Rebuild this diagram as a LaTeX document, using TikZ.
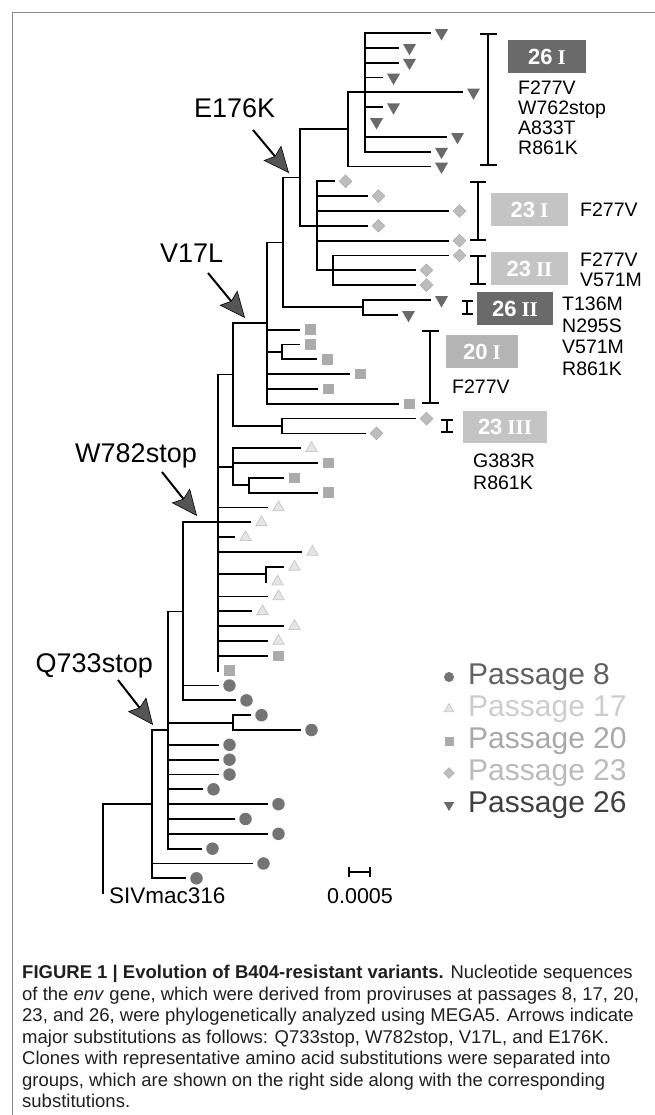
\documentclass[tikz,border=0pt]{standalone}
\usepackage{fontspec}
\setmainfont{Liberation Sans}
\newfontfamily\rmbf{Liberation Serif}
\usetikzlibrary{arrows.meta,shapes.geometric}
\definecolor{g26}{HTML}{6A6A6A}
\definecolor{g23}{HTML}{BDBDBD}
\definecolor{g20}{HTML}{ABABAB}
\definecolor{g17}{HTML}{C8C8C8}
\definecolor{g8}{HTML}{747474}
\definecolor{box26}{HTML}{6A6A6A}
\definecolor{box23}{HTML}{C4C4C4}
\definecolor{box20}{HTML}{B4B4B4}
\definecolor{framec}{HTML}{8A8A8A}
\definecolor{headc}{HTML}{555555}
\newcommand\lf[4]{%
  \coordinate (p#2) at (#1,{ly(#2)});
  \coordinate (q#2) at (#3,{ly(#2)});
  \draw[br] (p#2) -- (q#2);
  \node[#4] (m#2) at ([xshift=11.5pt]q#2) {};}
\newcommand\tvbar[4]{%
  \coordinate (#1t) at (#2,{ly(#3)});
  \coordinate (#1b) at (#2,{ly(#4)});
  \draw[br] (#1t) -- (#1b);}
\newcommand\thcon[4]{%
  \coordinate (#1a) at (#2,{ly(#4)});
  \coordinate (#1z) at (#3,{ly(#4)});
  \draw[br] (#1a) -- (#1z);}
\newcommand\grp[4]{%
  \coordinate (#1u) at (#2,{ly(#3)});
  \coordinate (#1d) at (#2,{ly(#4)});}
\newcommand\bxt[2]{{\fontsize{22}{22}\selectfont\bfseries #1}\hspace{5pt}{\rmbf\fontsize{21}{21}\selectfont\bfseries #2}}
\begin{document}
\begin{tikzpicture}[x=1pt,y=-1pt,
  declare function={ly(\i)=33+14.83*\i;},
  br/.style={line width=1.8pt,line cap=rect,black},
  t26/.style={regular polygon,regular polygon sides=3,shape border rotate=180,fill=g26,inner sep=0pt,minimum size=15pt},
  t17/.style={regular polygon,regular polygon sides=3,draw=g17,fill=g17!45,line width=0.8pt,inner sep=0pt,minimum size=13pt},
  d23/.style={diamond,fill=g23,draw=g23!85!black,line width=0.4pt,inner sep=0pt,minimum width=13pt,minimum height=13pt},
  s20/.style={rectangle,fill=g20,inner sep=0pt,minimum size=10.5pt},
  c8/.style={circle,fill=g8,inner sep=0pt,minimum size=12.5pt},
  gbox/.style={rectangle,inner sep=0pt,text=white,draw=none},
  lab/.style={font=\fontsize{19.5}{20}\selectfont,anchor=base west,inner sep=0pt},
  albl/.style={font=\fontsize{27}{30}\selectfont,inner sep=0pt},
  leg/.style={font=\fontsize{30}{30}\selectfont,anchor=base west,inner sep=0pt},
  capf/.style={font=\fontsize{18.5}{20}\selectfont,anchor=base west,inner sep=0pt,text=black!88},
  bigarr/.style={line width=2pt,-{Stealth[length=26pt,width=23pt,inset=4pt,fill=headc,line width=0.6pt]}},
  brk/.style={line width=2pt},
  framel/.style={line width=1pt,framec}]
\useasboundingbox (0,0) rectangle (655,1115);
% frame
\coordinate (fr1) at (12,1115);
\coordinate (fr2) at (12,13);
\coordinate (fr3) at (655,13);
\draw[framel] (fr1) -- (fr2) -- (fr3);
% ---- tree: internal verticals and connections
\tvbar{nA}{365}{0}{8}
\tvbar{nB}{348}{4}{9}
\thcon{cB}{300}{348}{6.5}
\tvbar{nC}{300}{6.5}{13}
\tvbar{nD}{317}{10}{16}
\tvbar{nE}{333}{15}{17}
\thcon{cC}{283}{300}{9.75}
\tvbar{nF}{283}{9.75}{18.5}
\thcon{cG}{283}{363}{18.5}
\tvbar{nG}{363}{18}{19}
\thcon{cF}{267}{283}{14.125}
\tvbar{nH}{267}{14.125}{25}
\thcon{cI}{267}{282}{21.5}
\tvbar{nI}{282}{21}{22}
\thcon{cH}{233}{267}{19.5625}
\tvbar{nJ}{233}{19.5625}{26.5}
\thcon{cK}{233}{282}{26.5}
\tvbar{nK}{282}{26}{27}
\thcon{cJ}{218}{233}{23.03}
\tvbar{nL}{218}{23.03}{43}
\thcon{cM}{218}{233}{29.25}
\tvbar{nM}{233}{28}{30.5}
\thcon{cN}{233}{249}{30.5}
\tvbar{nN}{249}{30}{31}
\thcon{cO}{218}{266}{36.5}
\tvbar{nO}{266}{36}{37}
\tvbar{nP}{183}{33.02}{45}
\thcon{cP}{168}{183}{39.01}
\tvbar{nQ}{168}{39.01}{55}
\thcon{cR}{168}{233}{46.5}
\tvbar{nR}{233}{46}{47}
\thcon{cQ}{152}{168}{47}
\tvbar{nS}{152}{47}{57}
\thcon{cS}{103}{152}{52}
\tvbar{nT}{103}{52}{58}
% ---- leaves
\lf{365}{0}{430}{t26}
\lf{365}{1}{398}{t26}
\lf{365}{2}{398}{t26}
\lf{365}{3}{382}{t26}
\lf{348}{4}{462}{t26}
\lf{365}{5}{382}{t26}
\lf{365}{6}{365}{t26}
\lf{365}{7}{446}{t26}
\lf{365}{8}{430}{t26}
\lf{348}{9}{430}{t26}
\lf{317}{10}{334}{d23}
\lf{317}{11}{367}{d23}
\lf{317}{12}{448}{d23}
\lf{300}{13}{367}{d23}
\lf{317}{14}{448}{d23}
\lf{333}{15}{448}{d23}
\lf{317}{16}{415}{d23}
\lf{333}{17}{415}{d23}
\lf{363}{18}{430}{t26}
\lf{363}{19}{397}{t26}
\lf{267}{20}{299}{s20}
\lf{282}{21}{299}{s20}
\lf{282}{22}{316}{s20}
\lf{267}{23}{349}{s20}
\lf{267}{24}{317}{s20}
\lf{267}{25}{398}{s20}
\lf{282}{26}{415}{d23}
\lf{282}{27}{365}{d23}
\lf{233}{28}{300}{t17}
\lf{233}{29}{317}{s20}
\lf{249}{30}{283}{s20}
\lf{249}{31}{317}{s20}
\lf{218}{32}{267}{t17}
\lf{183}{33}{250}{t17}
\lf{218}{34}{234}{t17}
\lf{218}{35}{301}{t17}
\lf{266}{36}{283}{t17}
\lf{266}{37}{266}{t17}
\lf{218}{38}{267}{t17}
\lf{218}{39}{251}{t17}
\lf{218}{40}{283}{t17}
\lf{218}{41}{267}{t17}
\lf{218}{42}{267}{s20}
\lf{218}{43}{218}{s20}
\lf{183}{44}{218}{c8}
\lf{183}{45}{235}{c8}
\lf{233}{46}{250}{c8}
\lf{233}{47}{300}{c8}
\lf{168}{48}{218}{c8}
\lf{168}{49}{218}{c8}
\lf{168}{50}{218}{c8}
\lf{168}{51}{202}{c8}
\lf{168}{52}{267}{c8}
\lf{168}{53}{234}{c8}
\lf{168}{54}{267}{c8}
\lf{168}{55}{201}{c8}
\lf{152}{56}{252}{c8}
\lf{152}{57}{185}{c8}
\node[font=\fontsize{22.5}{24}\selectfont,anchor=base west,inner sep=0pt] (siv) at (109,903) {SIVmac316};
% ---- scale bar
\coordinate (sb1) at (348,872);
\coordinate (sb2) at (371,872);
\draw[line width=1.6pt,{Bar[width=10pt]}-{Bar[width=10pt]}] (sb1) -- (sb2);
\node[font=\fontsize{21.5}{24}\selectfont,anchor=base,inner sep=0pt] (sbl) at (360,903) {0.0005};
% ---- mutation arrows
\node[albl,anchor=base west] (lE) at (194,118) {E176K};
\coordinate (aEs) at (253,130); \coordinate (aEt) at (289,173);
\draw[bigarr] (aEs) -- (aEt);
\node[albl,anchor=base west] (lV) at (160,262) {V17L};
\coordinate (aVs) at (208,273); \coordinate (aVt) at (245,318);
\draw[bigarr] (aVs) -- (aVt);
\node[albl,anchor=base east] (lW) at (197,462) {W782stop};
\coordinate (aWs) at (162,472); \coordinate (aWt) at (197,516);
\draw[bigarr] (aWs) -- (aWt);
\node[albl,anchor=base east] (lQ) at (153,672) {Q733stop};
\coordinate (aQs) at (118,680); \coordinate (aQt) at (153,725);
\draw[bigarr] (aQs) -- (aQt);
% ---- group brackets
\grp{k26a}{488}{0}{9}
\draw[brk,{Bar[width=17pt]}-{Bar[width=17pt]}] (k26au) -- (k26ad);
\grp{k23a}{478}{10}{14}
\draw[brk,{Bar[width=16pt]}-{Bar[width=16pt]}] (k23au) -- (k23ad);
\grp{k23b}{478}{15}{17}
\draw[brk,{Bar[width=16pt]}-{Bar[width=16pt]}] (k23bu) -- (k23bd);
\grp{k26b}{467}{18}{19}
\draw[brk,{Bar[width=11pt]}-{Bar[width=11pt]}] (k26bu) -- (k26bd);
\grp{k20a}{430}{20}{25}
\draw[brk,{Bar[width=17pt]}-{Bar[width=17pt]}] (k20au) -- (k20ad);
\grp{k23c}{447}{26}{27}
\draw[brk,{Bar[width=12pt]}-{Bar[width=12pt]}] (k23cu) -- (k23cd);
% ---- group boxes
\node[gbox,fill=box26,minimum width=78pt,minimum height=33pt] (b26I) at (547,56.5) {\bxt{26}{I}};
\node[gbox,fill=box23,minimum width=77pt,minimum height=33pt] (b23I) at (529.5,209.5) {\bxt{23}{I}};
\node[gbox,fill=box23,minimum width=77pt,minimum height=33pt] (b23II) at (529.5,268.5) {\bxt{23}{II}};
\node[gbox,fill=box26,minimum width=76pt,minimum height=33pt] (b26II) at (515,308.5) {\bxt{26}{II}};
\node[gbox,fill=box20,minimum width=72pt,minimum height=33pt] (b20I) at (482,351.5) {\bxt{20}{I}};
\node[gbox,fill=box23,minimum width=84pt,minimum height=32pt] (b23III) at (505,427) {\bxt{23}{III}};
% ---- substitutions
\node[lab] (s1) at (518,95) {F277V};
\node[lab] (s2) at (518,115) {W762stop};
\node[lab] (s3) at (518,135) {A833T};
\node[lab] (s4) at (518,155) {R861K};
\node[lab] (s5) at (580,217) {F277V};
\node[lab] (s6) at (580,266) {F277V};
\node[lab] (s7) at (580,286) {V571M};
\node[lab] (s8) at (562,310) {T136M};
\node[lab] (s9) at (562,332) {N295S};
\node[lab] (s10) at (562,353) {V571M};
\node[lab] (s11) at (562,375) {R861K};
\node[lab] (s12) at (452,393) {F277V};
\node[lab] (s13) at (473,467) {G383R};
\node[lab] (s14) at (473,489) {R861K};
% ---- legend
\node[c8,minimum size=10pt] (lg1) at (449,677) {};
\node[leg,text=black!62] (lt1) at (468,684) {Passage 8};
\node[t17,minimum size=11pt] (lg2) at (449,709) {};
\node[leg,text=black!20] (lt2) at (468,716) {Passage 17};
\node[s20,minimum size=9pt] (lg3) at (449,741) {};
\node[leg,text=black!34] (lt3) at (468,748) {Passage 20};
\node[d23,minimum width=11pt,minimum height=11pt] (lg4) at (449,773) {};
\node[leg,text=black!27] (lt4) at (468,780) {Passage 23};
\node[t26,minimum size=12pt] (lg5) at (449,805) {};
\node[leg,text=black!75] (lt5) at (468,812) {Passage 26};
% ---- caption
\node[capf] (cap1) at (22,978.5) {\textbf{FIGURE 1 | Evolution of B404-resistant variants.} Nucleotide sequences};
\node[capf] (cap2) at (22,1000) {of the \textit{env} gene, which were derived from proviruses at passages 8, 17, 20,};
\node[capf] (cap3) at (22,1021.5) {23, and 26, were phylogenetically analyzed using MEGA5. Arrows indicate};
\node[capf] (cap4) at (22,1043) {major substitutions as follows: Q733stop, W782stop, V17L, and E176K.};
\node[capf] (cap5) at (22,1064.5) {Clones with representative amino acid substitutions were separated into};
\node[capf] (cap6) at (22,1086) {groups, which are shown on the right side along with the corresponding};
\node[capf] (cap7) at (22,1107.5) {substitutions.};
\end{tikzpicture}
\end{document}
